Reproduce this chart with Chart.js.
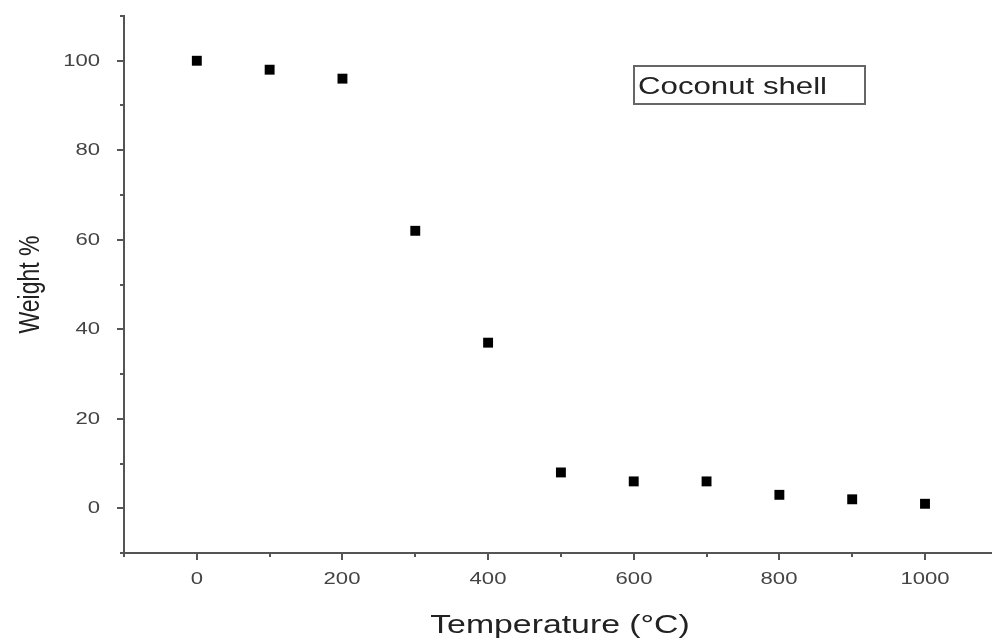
<!DOCTYPE html>
<html lang="en-US">
<head>
  <meta charset="utf-8">
  <title>Coconut shell TGA</title>
  <script src="https://cdn.jsdelivr.net/npm/chart.js@4/dist/chart.umd.min.js"></script>
  <style>
    html, body { margin: 0; padding: 0; background: #fff; }
    canvas { display: block; }
  </style>
</head>
<body>
  <canvas id="chart" width="992" height="641"></canvas>
  <script>
    // temperature (°C) and remaining weight (%)
    var temperatures = [0, 100, 200, 300, 400, 500, 600, 700, 800, 900, 1000];
    var weights = [100, 98, 96, 62, 37, 8, 6, 6, 3, 2, 1];
    var xTickValues = [-100, 0, 100, 200, 300, 400, 500, 600, 700, 800, 900, 1000];
    var yTickValues = [-10, 0, 10, 20, 30, 40, 50, 60, 70, 80, 90, 100, 110];
    var seriesName = 'Coconut shell';
    var xTitle = 'Temperature (°C)';
    var yTitle = 'Weight %';

    var AXIS = '#555';
    var FONT = 'Arial, "Liberation Sans", sans-serif';
    // the original figure is stretched sideways, text too
    var STRETCH = 1.3;

    function stretchedText(ctx, text, x, y, align, rotate) {
      ctx.save();
      ctx.translate(x, y);
      if (rotate) {
        ctx.rotate(-Math.PI / 2);
        ctx.scale(1, STRETCH);
      } else {
        ctx.scale(STRETCH, 1);
      }
      ctx.textAlign = align;
      ctx.textBaseline = 'middle';
      ctx.fillText(text, 0, 0);
      ctx.restore();
    }

    // tick marks, tick labels, axis titles and boxed legend
    var axisDecor = {
      id: 'axisDecor',
      afterDraw: function(chart) {
        var ctx = chart.ctx;
        var xs = chart.scales.x, ys = chart.scales.y;
        var area = chart.chartArea;
        ctx.save();
        ctx.strokeStyle = AXIS;
        ctx.lineWidth = 2;
        ctx.fillStyle = '#444';
        ctx.font = '17px ' + FONT;
        xs.ticks.forEach(function(t) {
          var px = Math.round(xs.getPixelForValue(t.value));
          var major = t.value % 200 === 0;
          ctx.beginPath();
          ctx.moveTo(px, xs.top);
          ctx.lineTo(px, xs.top + (major ? 7 : 4));
          ctx.stroke();
          if (major) stretchedText(ctx, String(t.value), px, 579, 'center');
        });
        ys.ticks.forEach(function(t) {
          var py = Math.round(ys.getPixelForValue(t.value));
          var major = t.value % 20 === 0;
          ctx.beginPath();
          ctx.moveTo(ys.right, py);
          ctx.lineTo(ys.right - (major ? 7 : 4), py);
          ctx.stroke();
          if (major) stretchedText(ctx, String(t.value), 100, py, 'right');
        });

        ctx.fillStyle = '#222';
        ctx.font = '26px ' + FONT;
        stretchedText(ctx, xTitle, (area.left + area.right) / 2 + 2, 626, 'center');
        ctx.font = '23px ' + FONT;
        stretchedText(ctx, yTitle, 31, (area.top + area.bottom) / 2, 'center', true);

        ctx.strokeStyle = '#666';
        ctx.strokeRect(634, 66, 231, 38);
        ctx.font = '24px ' + FONT;
        stretchedText(ctx, seriesName, 638, 87, 'left');
        ctx.restore();
      }
    };

    var config = {
      type: 'scatter',
      data: {
        datasets: [{
          label: seriesName,
          data: temperatures.map(function(t, i) { return { x: t, y: weights[i] }; }),
          pointStyle: 'rect',
          pointRadius: 7,
          pointHoverRadius: 7,
          borderWidth: 0,
          backgroundColor: '#000',
          borderColor: '#000'
        }]
      },
      options: {
        responsive: false,
        animation: false,
        layout: { autoPadding: false, padding: { top: 16, right: 0, left: 0, bottom: 0 } },
        plugins: {
          legend: { display: false },
          tooltip: { enabled: false }
        },
        scales: {
          x: {
            type: 'linear',
            min: -100,
            max: 1092,
            afterBuildTicks: function(s) {
              s.ticks = xTickValues.map(function(v) { return { value: v }; });
            },
            afterFit: function(s) {
              s.height = 88;
              s.paddingLeft = s.paddingRight = 0;
            },
            border: { display: true, color: AXIS, width: 2 },
            grid: { display: false, drawTicks: false, tickLength: 0 },
            ticks: { display: false }
          },
          y: {
            type: 'linear',
            min: -10,
            max: 110,
            afterBuildTicks: function(s) {
              s.ticks = yTickValues.map(function(v) { return { value: v }; });
            },
            afterFit: function(s) {
              s.width = 124;
              s.paddingTop = s.paddingBottom = 0;
            },
            border: { display: true, color: AXIS, width: 2 },
            grid: { display: false, drawTicks: false, tickLength: 0 },
            ticks: { display: false }
          }
        }
      },
      plugins: [axisDecor]
    };

    window.onload = function() {
      var ctx = document.getElementById('chart').getContext('2d');
      window.myChart = new Chart(ctx, config);
    };
  </script>
</body>
</html>
